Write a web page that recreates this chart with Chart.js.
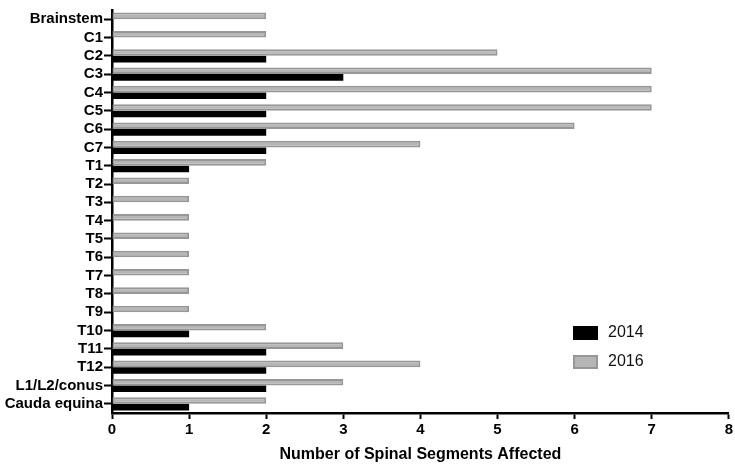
<!DOCTYPE html>
<html>
<head>
<meta charset="utf-8">
<script src="https://cdn.jsdelivr.net/npm/chart.js@4"></script>
<style>
  html, body { margin: 0; padding: 0; background: #fff; }
  #wrap { width: 735px; height: 464px; position: relative; }
</style>
</head>
<body>
<div id="wrap"><canvas id="graph"></canvas></div>
<script>
// Segments (top to bottom)
const segments = ['Brainstem', 'C1', 'C2', 'C3', 'C4', 'C5', 'C6', 'C7',
  'T1', 'T2', 'T3', 'T4', 'T5', 'T6', 'T7', 'T8', 'T9', 'T10', 'T11', 'T12',
  'L1/L2/conus', 'Cauda equina'];
const values2014 = [0, 0, 2, 3, 2, 2, 2, 2, 1, 0, 0, 0, 0, 0, 0, 0, 0, 1, 2, 2, 2, 1];
const values2016 = [2, 2, 5, 7, 7, 7, 6, 4, 2, 1, 1, 1, 1, 1, 1, 1, 1, 2, 3, 4, 3, 2];
const xTicks = [0, 1, 2, 3, 4, 5, 6, 7, 8];

const FONT = 'Liberation Sans, Arial, Helvetica, sans-serif';
const GREY_FILL = '#b6b6b6';
const GREY_LINE = '#979797';

// legend drawn inside the plot, lower right
const insideLegend = {
  id: 'insideLegend',
  afterDraw(chart) {
    const ctx = chart.ctx;
    const items = [
      { text: '2014', fill: '#000', line: '#000' },
      { text: '2016', fill: GREY_FILL, line: GREY_LINE }
    ];
    ctx.save();
    ctx.font = '16px ' + FONT;
    ctx.textBaseline = 'middle';
    items.forEach(function (it, i) {
      const y = 333 + i * 29;
      ctx.fillStyle = it.line;
      ctx.fillRect(573, y - 7, 25, 14);
      ctx.fillStyle = it.fill;
      ctx.fillRect(575, y - 5, 21, 10);
      ctx.fillStyle = '#111';
      ctx.fillText(it.text, 608, y);
    });
    ctx.restore();
  }
};

new Chart(document.getElementById('graph'), {
  type: 'bar',
  data: {
    labels: segments,
    datasets: [{
      label: '2016',
      data: values2016,
      backgroundColor: GREY_FILL,
      borderColor: GREY_LINE,
      borderWidth: 2,
      borderSkipped: false
    }, {
      label: '2014',
      data: values2014,
      backgroundColor: '#000',
      borderWidth: 0
    }]
  },
  options: {
    indexAxis: 'y',
    responsive: true,
    maintainAspectRatio: false,
    animation: false,
    categoryPercentage: 0.72,
    barPercentage: 1.0,
    layout: { padding: { top: 0, right: 5, left: 0, bottom: 0 } },
    plugins: {
      legend: { display: false },
      tooltip: { enabled: false }
    },
    scales: {
      x: {
        min: 0,
        max: 8,
        afterBuildTicks: function (scale) {
          scale.ticks = xTicks.map(function (v) { return { value: v }; });
        },
        afterFit: function (scale) { scale.height = 51; },
        border: { color: '#000', width: 2.5 },
        grid: { drawOnChartArea: false, color: '#000', tickLength: 6, tickWidth: 2 },
        ticks: { color: '#000', padding: 2, maxRotation: 0, font: { family: FONT, size: 15, weight: 'bold' } },
        title: {
          display: true,
          text: 'Number of Spinal Segments Affected',
          color: '#000',
          padding: { top: 2, bottom: 0 },
          font: { family: FONT, size: 16, weight: 'bold' }
        }
      },
      y: {
        afterFit: function (scale) { scale.width = 112; },
        border: { color: '#000', width: 2.5 },
        grid: { offset: false, drawOnChartArea: false, color: '#000', tickLength: 8, tickWidth: 2 },
        ticks: { color: '#000', padding: 1, autoSkip: false, font: { family: FONT, size: 15, weight: 'bold' } }
      }
    }
  },
  plugins: [insideLegend]
});
</script>
</body>
</html>
